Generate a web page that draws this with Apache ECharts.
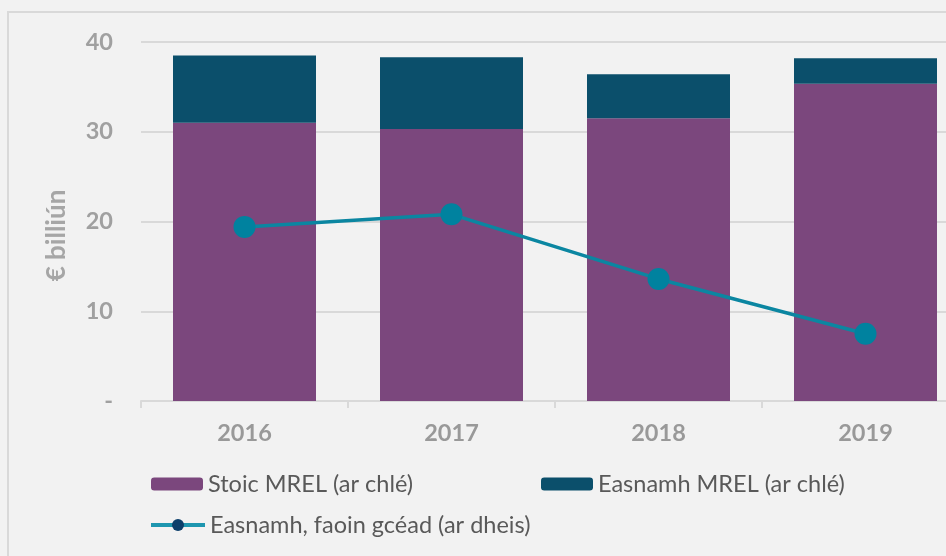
<!DOCTYPE html>
<html>
<head>
<meta charset="utf-8">
<script src="https://cdn.jsdelivr.net/npm/echarts@6/dist/echarts.min.js"></script>
<style>
  html, body { margin: 0; padding: 0; background: #f2f2f2; overflow: hidden; }
  #chart { width: 969px; height: 556px; }
</style>
</head>
<body>
<div id="chart"></div>
<script>
// bliainta
var years = ['2016', '2017', '2018', '2019'];
// Stoic MREL (ar chlé), € billiún
var stoic = [31.0, 30.3, 31.5, 35.35];
// Easnamh MREL (ar chlé), € billiún
var easnamh = [7.5, 8.0, 4.9, 2.85];
// Easnamh, faoin gcéad (ar dheis)
var easnamhPct = [19.4, 20.8, 13.6, 7.5];
var yTicks = [0, 10, 20, 30, 40];

var chart = echarts.init(document.getElementById('chart'));
var font = 'Lato, "Open Sans", sans-serif';
var legendText = { fontSize: 23.5, color: '#595959', fontFamily: font };

chart.setOption({
  backgroundColor: '#f2f2f2',
  animation: false,
  textStyle: { fontFamily: font },
  graphic: [{
    type: 'rect',
    shape: { x: 8, y: 12, width: 1000, height: 600 },
    style: { fill: 'none', stroke: '#d9d9d9', lineWidth: 2 },
    z: -1
  }],
  grid: { left: 141, top: 42, right: 0, bottom: 155 },
  legend: [
    {
      left: 151, top: 472, padding: 0,
      itemWidth: 52, itemHeight: 13, itemGap: 5,
      textStyle: legendText,
      data: ['Stoic MREL (ar chlé)']
    },
    {
      left: 541, top: 472, padding: 0,
      itemWidth: 52, itemHeight: 13, itemGap: 5,
      textStyle: legendText,
      data: ['Easnamh MREL (ar chlé)']
    },
    {
      left: 149, top: 513, padding: 0,
      itemWidth: 54, itemHeight: 15, itemGap: 4,
      textStyle: legendText,
      data: [{
        name: 'Easnamh, faoin gcéad (ar dheis)',
        itemStyle: { color: '#0c3f6b' },
        lineStyle: { color: '#1e96af', width: 4 }
      }]
    }
  ],
  xAxis: {
    type: 'category',
    data: years,
    axisLine: { lineStyle: { color: '#d9d9d9', width: 2 } },
    axisTick: { show: true, length: 7, lineStyle: { color: '#d9d9d9', width: 2 } },
    axisLabel: { margin: 20, fontSize: 23.5, fontWeight: 'bold', color: '#999999' }
  },
  yAxis: [
    {
      type: 'value',
      min: yTicks[0], max: yTicks[yTicks.length - 1], interval: 10,
      name: '€ billiún',
      nameLocation: 'middle',
      nameMoveOverlap: false,
      nameGap: 71,
      nameTextStyle: {
        fontSize: 26, fontWeight: 'bold', color: '#a6a6a6', fontFamily: font,
        padding: [0, 28, 0, 0]
      },
      axisLine: { show: false },
      axisTick: { show: false },
      splitLine: { lineStyle: { color: '#d9d9d9', width: 2 } },
      axisLabel: {
        margin: 28, fontSize: 23.5, fontWeight: 'bold', color: '#a0a0a0',
        formatter: function (v) { return v === 0 ? '-' : v; }
      }
    },
    {
      type: 'value',
      min: 0, max: 40,
      show: false,
      splitLine: { show: false }
    }
  ],
  series: [
    {
      name: 'Stoic MREL (ar chlé)',
      type: 'bar',
      stack: 'mrel',
      barWidth: 143,
      itemStyle: { color: '#7b477d' },
      data: stoic
    },
    {
      name: 'Easnamh MREL (ar chlé)',
      type: 'bar',
      stack: 'mrel',
      barWidth: 143,
      itemStyle: { color: '#0b4f6b' },
      data: easnamh
    },
    {
      name: 'Easnamh, faoin gcéad (ar dheis)',
      type: 'line',
      yAxisIndex: 1,
      symbol: 'circle',
      symbolSize: 22,
      lineStyle: { color: '#0b86a1', width: 3.5 },
      itemStyle: { color: '#00829f' },
      data: easnamhPct,
      z: 5
    }
  ]
});
</script>
</body>
</html>
